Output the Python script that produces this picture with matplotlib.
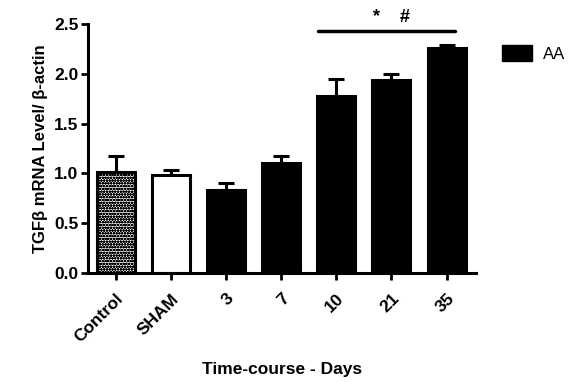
import matplotlib
matplotlib.use("Agg")
import matplotlib.pyplot as plt
import numpy as np
from matplotlib.patches import Patch

plt.rcParams['font.family'] = ['Liberation Sans', 'DejaVu Sans']
plt.rcParams['hatch.linewidth'] = 0.8

categories = ["Control", "SHAM", "3", "7", "10", "21", "35"]
values = [1.01, 0.98, 0.83, 1.10, 1.78, 1.94, 2.26]
errors = [0.16, 0.05, 0.07, 0.07, 0.17, 0.06, 0.03]
y_ticks = [0.0, 0.5, 1.0, 1.5, 2.0, 2.5]
sig_text = "*    #"
sig_level = 2.43

fig = plt.figure(figsize=(5.74, 3.82), dpi=100)
ax = fig.add_axes([0.1533, 0.2853, 0.6757, 0.6518])

x = np.arange(len(categories))
faces = ["white", "white"] + ["black"] * 5
hatches = ["oooooo", "", "", "", "", "", ""]
for i in range(len(categories)):
    ax.bar(x[i], values[i], width=0.69, color=faces[i], edgecolor="black",
           linewidth=2.2, hatch=hatches[i], zorder=2)
ax.errorbar(x, values, yerr=[np.zeros(len(values)), errors], fmt="none",
            ecolor="black", elinewidth=2.2, capsize=6, capthick=2.2, zorder=1)

ax.set_xlim(-0.5, 6.53)
ax.set_ylim(0, 2.5)
ax.set_yticks(y_ticks)
ax.set_yticklabels([f"{t:.1f}" for t in y_ticks], fontsize=12.5, fontweight="bold")
ax.set_xticks(x)
ax.set_xticklabels(categories, rotation=45, ha="right", rotation_mode="anchor",
                   fontsize=12.5, fontweight="bold")
for s in ["top", "right"]:
    ax.spines[s].set_visible(False)
for s in ["left", "bottom"]:
    ax.spines[s].set_linewidth(2.2)
ax.tick_params(axis="both", direction="out", length=5, width=2, pad=2)
ax.tick_params(axis="x", pad=8)

ax.set_ylabel("TGFβ mRNA Level/ β-actin", fontsize=12, fontweight="bold", labelpad=4)
ax.set_xlabel("Time-course - Days", fontsize=12.5, fontweight="bold", labelpad=12)

# significance line
ax.plot([3.67, 6.15], [sig_level, sig_level], color="black", lw=2.5,
        solid_capstyle="round", clip_on=False)
ax.text(5.0, sig_level + 0.05, sig_text, ha="center", va="bottom",
        fontsize=13, fontweight="bold")

leg = ax.legend(handles=[Patch(facecolor="black", edgecolor="black", label="AA")],
                loc="upper left", bbox_to_anchor=(1.03, 0.975), frameon=False,
                fontsize=12, handlelength=1.8, handleheight=1.1, handletextpad=0.6,
                borderpad=0.4)

fig.savefig("out.png", dpi=100)
